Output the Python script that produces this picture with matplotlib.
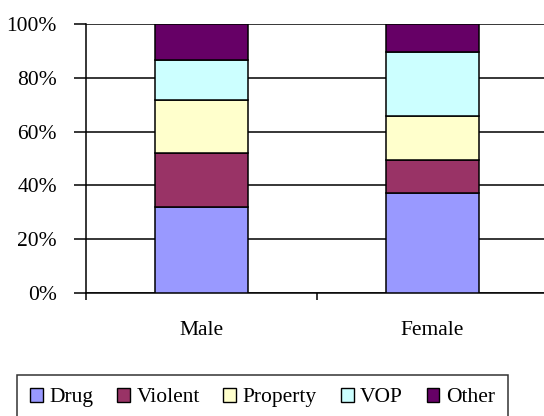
import matplotlib.pyplot as plt
import numpy as np
from matplotlib.patches import Patch

plt.rcParams['font.family'] = ['Liberation Serif', 'DejaVu Serif']

groups = ["Male", "Female"]
offenses = ["Drug", "Violent", "Property", "VOP", "Other"]
male = [32.0, 20.2, 19.4, 15.0, 13.4]
female = [37.2, 12.1, 16.5, 23.8, 10.4]
colors = ["#9999FF", "#993366", "#FFFFCC", "#CCFFFF", "#660066"]

fig = plt.figure(figsize=(5.44, 4.16), dpi=100)
ax = fig.add_axes([86/544, 1-293/416, 462/544, 269/416])

vals = np.array([male, female]).T
xpos = np.array([0.5, 1.5])
bottom = np.zeros(2)
for i, name in enumerate(offenses):
    ax.bar(xpos, vals[i], 0.4, bottom=bottom, color=colors[i],
           edgecolor="black", linewidth=1.1, zorder=3)
    bottom += vals[i]

ax.set_xlim(0, 2)
ax.set_ylim(0, 100)
ax.set_yticks(np.arange(0, 101, 20))
ax.set_yticklabels([f"{v}%" for v in range(0, 101, 20)], fontsize=15.5)
ax.yaxis.grid(True, color="black", linewidth=1.1, zorder=0)
ax.set_xticks([0, 1, 2])
ax.set_xticklabels([])
ax.set_xticks(xpos, minor=True)
ax.set_xticklabels(groups, minor=True, fontsize=15.5)
ax.tick_params(axis="x", which="minor", length=0, pad=20)
ax.tick_params(axis="x", which="major", length=5, width=1.1, direction="out")
ax.tick_params(axis="y", length=9, width=1.1, direction="out", pad=12)
for s in ["top", "right"]:
    ax.spines[s].set_visible(False)
for s in ["left", "bottom"]:
    ax.spines[s].set_linewidth(1.1)

handles = [Patch(facecolor=c, edgecolor="black", linewidth=1) for c in colors]
leg = fig.legend(handles, offenses, loc="upper left",
                 bbox_to_anchor=(17/544, 1-375/416), ncol=5, fontsize=15.5,
                 frameon=True, fancybox=False, handlelength=0.6, handleheight=0.6,
                 handletextpad=0.3, columnspacing=1.1, borderpad=0.6,
                 borderaxespad=0)
leg.get_frame().set_edgecolor("black")
leg.get_frame().set_linewidth(1.1)

fig.savefig("out.png", dpi=100)
